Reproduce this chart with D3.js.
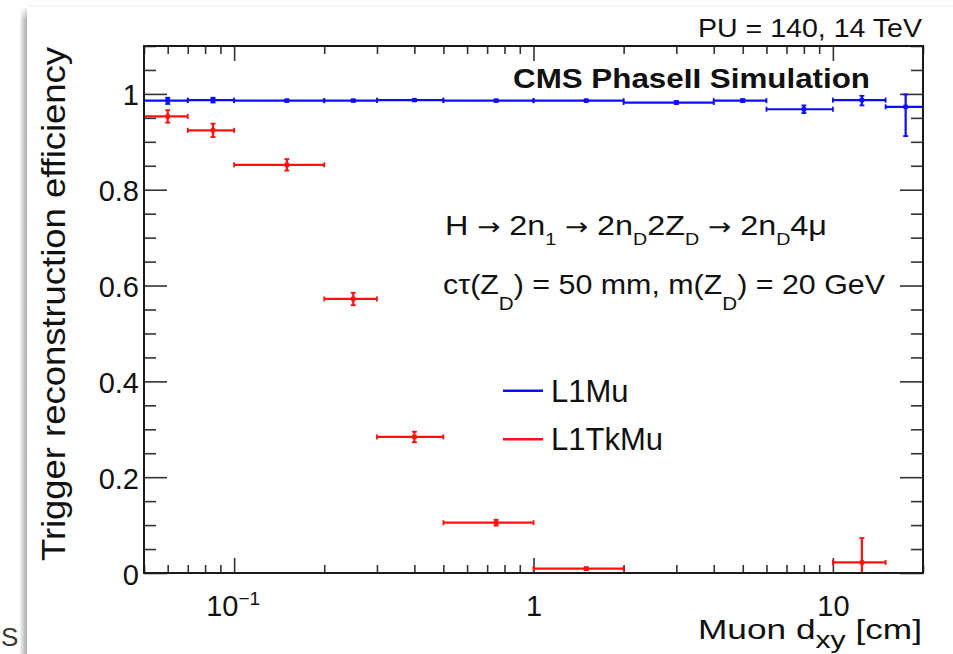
<!DOCTYPE html>
<html>
<head>
<meta charset="utf-8">
<script src="https://cdn.jsdelivr.net/npm/d3@7"></script>
<style>
  html, body { margin: 0; padding: 0; background: #fff; }
  svg { display: block; font-family: "Liberation Sans", Arial, Helvetica, sans-serif; }
</style>
</head>
<body>
<svg id="chart" width="953" height="654"></svg>
<script>
// ---------------- data ----------------
const blueLo   = [0.05, 0.07, 0.1, 0.2, 0.3, 0.5, 1, 2, 4, 6, 10, 15];
const blueHi   = [0.07, 0.1, 0.2, 0.3, 0.5, 1, 2, 4, 6, 10, 15, 20];
const blueX    = [0.06, 0.085, 0.15, 0.25, 0.4, 0.75, 1.5, 3, 5, 8, 12.5, 17.5];
const blueEff  = [0.986, 0.987, 0.986, 0.986, 0.987, 0.986, 0.986, 0.982, 0.986, 0.968, 0.987, 0.973];
const blueErrLo = [0.007, 0.005, 0.002, 0.002, 0.002, 0.002, 0.002, 0.003, 0.003, 0.008, 0.011, 0.061];
const blueErrHi = [0.006, 0.005, 0.002, 0.002, 0.002, 0.002, 0.002, 0.003, 0.003, 0.008, 0.009, 0.026];

const redLo    = [0.05, 0.07, 0.1, 0.2, 0.3, 0.5, 1, 10];
const redHi    = [0.07, 0.1, 0.2, 0.3, 0.5, 1, 2, 15];
const redX     = [0.06, 0.085, 0.15, 0.25, 0.4, 0.75, 1.5, 12.5];
const redEff   = [0.953, 0.924, 0.852, 0.572, 0.284, 0.105, 0.009, 0.022];
const redErrLo = [0.013, 0.014, 0.012, 0.013, 0.011, 0.006, 0.003, 0.022];
const redErrHi = [0.013, 0.014, 0.012, 0.013, 0.011, 0.006, 0.003, 0.051];

const seriesNames = ["L1Mu", "L1TkMu"];
const yMajorTicks = [0, 0.2, 0.4, 0.6, 0.8, 1.0];
const yTickLabels = ["0", "0.2", "0.4", "0.6", "0.8", "1"];
const xMajorTicks = [0.1, 1, 10];
const xTickLabels = ["10^-1", "1", "10"];

// ---------------- layout ----------------
const svg = d3.select("#chart");
const L = 144, R = 923, T = 46, B = 573;
const x = d3.scaleLog().domain([0.05, 20]).range([L, R]);
const y = d3.scaleLinear().domain([0, 1.1]).range([B, T]);

// background artefacts of the screenshot (shadow + stray letter)
const defs = svg.append("defs");
const grad = defs.append("linearGradient").attr("id", "shadow").attr("x1", "0").attr("x2", "1");
grad.append("stop").attr("offset", "0").attr("stop-color", "#f4f4f4");
grad.append("stop").attr("offset", "1").attr("stop-color", "#a9a9a9");
const gradV = defs.append("linearGradient").attr("id", "shadowTop").attr("x1", "0").attr("x2", "0").attr("y1", "0").attr("y2", "1");
gradV.append("stop").attr("offset", "0").attr("stop-color", "#fff");
gradV.append("stop").attr("offset", "1").attr("stop-color", "#fff").attr("stop-opacity", 0);
svg.append("rect").attr("x", 20).attr("y", 8).attr("width", 7).attr("height", 646).attr("fill", "url(#shadow)");
svg.append("rect").attr("x", 18).attr("y", 6).attr("width", 12).attr("height", 14).attr("fill", "url(#shadowTop)");
svg.append("line").attr("x1", 27).attr("x2", 953).attr("y1", 6).attr("y2", 6).attr("stroke", "#f0f0f0").attr("stroke-width", 1.5);
svg.append("text").attr("x", 1).attr("y", 646).attr("font-size", 26).attr("fill", "#3a3a3a").text("S");

defs.append("clipPath").attr("id", "plotClip")
  .append("rect").attr("x", L).attr("y", T).attr("width", R - L).attr("height", B - T);

// ---------------- axes ----------------
const tickColor = "#333";
function yMinor() {
  const v = [];
  for (let i = 0; i <= 22; i++) { const t = +(i * 0.05).toFixed(2); if (Math.abs(t / 0.2 - Math.round(t / 0.2)) > 1e-6) v.push(t); }
  return v;
}
function xMinor() {
  const v = [];
  [0.01, 0.1, 1, 10].forEach(d => { for (let k = 2; k <= 9; k++) { const t = +(k * d).toPrecision(3); if (t >= 0.05 && t <= 20) v.push(t); } });
  return v;
}

// left
const gL = svg.append("g").attr("transform", `translate(${L},0)`)
  .call(d3.axisLeft(y).tickValues(yMajorTicks).tickSize(-23).tickPadding(5)
    .tickFormat((d, i) => yTickLabels[i]));
const gLm = svg.append("g").attr("transform", `translate(${L},0)`)
  .call(d3.axisLeft(y).tickValues(yMinor()).tickSize(-12).tickFormat(""));
// right
const gR = svg.append("g").attr("transform", `translate(${R},0)`)
  .call(d3.axisRight(y).tickValues(yMajorTicks).tickSize(-23).tickFormat(""));
const gRm = svg.append("g").attr("transform", `translate(${R},0)`)
  .call(d3.axisRight(y).tickValues(yMinor()).tickSize(-12).tickFormat(""));
// bottom
const gB = svg.append("g").attr("transform", `translate(0,${B})`)
  .call(d3.axisBottom(x).tickValues(xMajorTicks).tickSize(-15).tickPadding(22)
    .tickFormat((d, i) => xTickLabels[i]));
const gBm = svg.append("g").attr("transform", `translate(0,${B})`)
  .call(d3.axisBottom(x).tickValues(xMinor()).tickSize(-8).tickFormat(""));
// top
const gT = svg.append("g").attr("transform", `translate(0,${T})`)
  .call(d3.axisTop(x).tickValues(xMajorTicks).tickSize(-15).tickFormat(""));
const gTm = svg.append("g").attr("transform", `translate(0,${T})`)
  .call(d3.axisTop(x).tickValues(xMinor()).tickSize(-8).tickFormat(""));

[gL, gLm, gR, gRm, gB, gBm, gT, gTm].forEach(g => {
  g.select(".domain").remove();
  g.selectAll(".tick line").attr("stroke", tickColor).attr("stroke-width", 1.6);
  g.selectAll(".tick text").attr("font-size", 29).attr("fill", "#111")
    .attr("font-family", "'Liberation Sans', Arial, sans-serif");
});
gL.selectAll(".tick text").attr("dy", "0.38em");
// exponent label 10^-1
gB.selectAll(".tick text").each(function (d, i) {
  const lbl = xTickLabels[i];
  if (lbl.includes("^")) {
    const [base, ex] = lbl.split("^");
    const t = d3.select(this).text("");
    t.append("tspan").text(base);
    t.append("tspan").attr("font-size", 19).attr("dy", "-0.55em").text(ex.replace("-", "\u2212"));
    t.attr("dx", "-0.05em");
  }
});

// ---------------- data marks ----------------
const plot = svg.append("g").attr("clip-path", "url(#plotClip)");
function drawSeries(color, xs, lo, hi, eff, eLo, eHi) {
  const g = plot.append("g").attr("stroke", color).attr("fill", color).attr("stroke-width", 2.2);
  xs.forEach((xc, i) => {
    const yc = y(eff[i]);
    const xl = x(lo[i]), xr = x(hi[i]);
    const yt = y(Math.min(1.1, eff[i] + eHi[i])), yb = y(Math.max(0, eff[i] - eLo[i]));
    const cap = 2.5;
    g.append("line").attr("x1", xl).attr("x2", xr).attr("y1", yc).attr("y2", yc);
    g.append("line").attr("x1", xl).attr("x2", xl).attr("y1", yc - cap).attr("y2", yc + cap).attr("stroke-width", 1.8);
    g.append("line").attr("x1", xr).attr("x2", xr).attr("y1", yc - cap).attr("y2", yc + cap).attr("stroke-width", 1.8);
    g.append("line").attr("x1", x(xc)).attr("x2", x(xc)).attr("y1", yt).attr("y2", yb);
    g.append("line").attr("x1", x(xc) - cap).attr("x2", x(xc) + cap).attr("y1", yt).attr("y2", yt).attr("stroke-width", 1.8);
    g.append("line").attr("x1", x(xc) - cap).attr("x2", x(xc) + cap).attr("y1", yb).attr("y2", yb).attr("stroke-width", 1.8);
    g.append("rect").attr("x", x(xc) - 2.2).attr("y", yc - 2.2).attr("width", 4.4).attr("height", 4.4).attr("stroke", "none");
  });
}
const blueCol = "#0c0cff", redCol = "#ff1010";
drawSeries(blueCol, blueX, blueLo, blueHi, blueEff, blueErrLo, blueErrHi);
drawSeries(redCol, redX, redLo, redHi, redEff, redErrLo, redErrHi);

// frame
svg.append("rect").attr("x", L).attr("y", T).attr("width", R - L).attr("height", B - T)
  .attr("fill", "none").attr("stroke", "#1a1a1a").attr("stroke-width", 2);

// ---------------- texts ----------------
svg.append("text").attr("x", 922).attr("y", 36.5).attr("text-anchor", "end")
  .attr("font-size", 25).attr("fill", "#111").attr("textLength", 224).attr("lengthAdjust", "spacingAndGlyphs")
  .text("PU = 140, 14 TeV");

svg.append("text").attr("x", 513).attr("y", 88).attr("font-size", 27).attr("font-weight", "bold")
  .attr("fill", "#111").attr("textLength", 357).attr("lengthAdjust", "spacingAndGlyphs")
  .text("CMS PhaseII Simulation");

// rich text helper: parts = [{t, sub, arrow}], tracks baseline offset
function rich(t, parts, subShift, subSize) {
  let cur = 0;
  parts.forEach(p => {
    const target = p.sub ? subShift : 0;
    const ts = t.append("tspan").attr("dy", target - cur).text(p.t);
    cur = target;
    if (p.sub) ts.attr("font-size", subSize);
    if (p.arrow) ts.attr("font-family", "'DejaVu Sans', sans-serif").attr("font-size", 24);
  });
}

const t1 = svg.append("text").attr("x", 445).attr("y", 235).attr("font-size", 28).attr("fill", "#111")
  .attr("textLength", 382).attr("lengthAdjust", "spacingAndGlyphs");
rich(t1, [
  { t: "H" }, { t: " \u2192 ", arrow: true }, { t: "2n" }, { t: "1", sub: true },
  { t: " \u2192 ", arrow: true }, { t: "2n" }, { t: "D", sub: true }, { t: "2Z" }, { t: "D", sub: true },
  { t: " \u2192 ", arrow: true }, { t: "2n" }, { t: "D", sub: true }, { t: "4\u03bc" }
], 10, 17);

const t2 = svg.append("text").attr("x", 443).attr("y", 294).attr("font-size", 28).attr("fill", "#111")
  .attr("textLength", 442).attr("lengthAdjust", "spacingAndGlyphs");
rich(t2, [
  { t: "c\u03c4(Z" }, { t: "D", sub: true }, { t: ") = 50 mm, m(Z" }, { t: "D", sub: true }, { t: ") = 20 GeV" }
], 16, 19);

// legend
const legY = [390.7, 439.3];
const legCol = [blueCol, redCol];
seriesNames.forEach((n, i) => {
  svg.append("line").attr("x1", 503).attr("x2", 543).attr("y1", legY[i]).attr("y2", legY[i])
    .attr("stroke", legCol[i]).attr("stroke-width", 2.4);
  svg.append("text").attr("x", 551).attr("y", legY[i] + 11).attr("font-size", 31).attr("fill", "#111").text(n);
});

// axis titles
const xt = svg.append("text").attr("x", 922).attr("y", 639).attr("text-anchor", "end")
  .attr("font-size", 28).attr("fill", "#111").attr("textLength", 224).attr("lengthAdjust", "spacingAndGlyphs");
rich(xt, [{ t: "Muon d" }, { t: "xy", sub: true }, { t: " [cm]" }], 9, 24);

svg.append("text").attr("transform", "translate(65,47) rotate(-90)").attr("text-anchor", "end")
  .attr("font-size", 34).attr("fill", "#111").attr("textLength", 514).attr("lengthAdjust", "spacingAndGlyphs")
  .text("Trigger reconstruction efficiency");
</script>
</body>
</html>
